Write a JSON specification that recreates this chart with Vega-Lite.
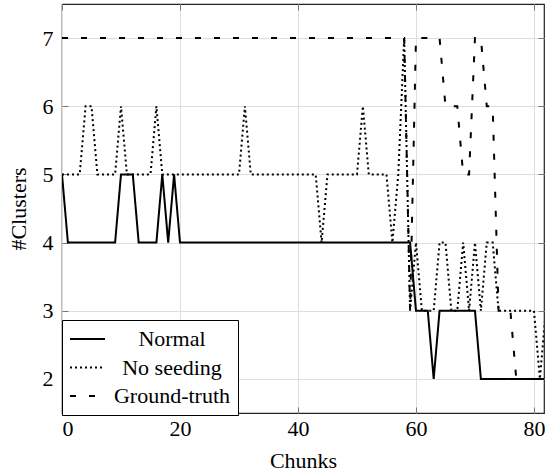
{
  "$schema": "https://vega.github.io/schema/vega-lite/v6.json",
  "width": 482,
  "height": 409,
  "autosize": {"type": "none"},
  "padding": {"left": 62, "top": 4, "right": 1, "bottom": 60},
  "config": {
    "font": "'Liberation Serif', 'Times New Roman', Tinos, 'DejaVu Serif', 'Noto Serif', FreeSerif, serif",
    "view": {"stroke": "#222", "strokeWidth": 1.2},
    "axis": {
      "labelFont": "'Liberation Serif', 'Times New Roman', Tinos, 'DejaVu Serif', 'Noto Serif', FreeSerif, serif",
      "titleFont": "'Liberation Serif', 'Times New Roman', Tinos, 'DejaVu Serif', 'Noto Serif', FreeSerif, serif",
      "labelFontSize": 22,
      "titleFontSize": 22,
      "titleFontWeight": "normal",
      "labelColor": "black",
      "titleColor": "black",
      "domain": false,
      "gridColor": "#dedede",
      "gridWidth": 1,
      "tickColor": "#777",
      "tickSize": -6
    },
    "legend": {
      "labelFont": "'Liberation Serif', 'Times New Roman', Tinos, 'DejaVu Serif', 'Noto Serif', FreeSerif, serif"
    }
  },
  "data": {"values": [
    {"c":0,"Normal":5,"No seeding":5,"Ground-truth":7},
    {"c":1,"Normal":4,"No seeding":5,"Ground-truth":7},
    {"c":2,"Normal":4,"No seeding":5,"Ground-truth":7},
    {"c":3,"Normal":4,"No seeding":5,"Ground-truth":7},
    {"c":4,"Normal":4,"No seeding":6,"Ground-truth":7},
    {"c":5,"Normal":4,"No seeding":6,"Ground-truth":7},
    {"c":6,"Normal":4,"No seeding":5,"Ground-truth":7},
    {"c":7,"Normal":4,"No seeding":5,"Ground-truth":7},
    {"c":8,"Normal":4,"No seeding":5,"Ground-truth":7},
    {"c":9,"Normal":4,"No seeding":5,"Ground-truth":7},
    {"c":10,"Normal":5,"No seeding":6,"Ground-truth":7},
    {"c":11,"Normal":5,"No seeding":5,"Ground-truth":7},
    {"c":12,"Normal":5,"No seeding":5,"Ground-truth":7},
    {"c":13,"Normal":4,"No seeding":5,"Ground-truth":7},
    {"c":14,"Normal":4,"No seeding":5,"Ground-truth":7},
    {"c":15,"Normal":4,"No seeding":5,"Ground-truth":7},
    {"c":16,"Normal":4,"No seeding":6,"Ground-truth":7},
    {"c":17,"Normal":5,"No seeding":5,"Ground-truth":7},
    {"c":18,"Normal":4,"No seeding":5,"Ground-truth":7},
    {"c":19,"Normal":5,"No seeding":5,"Ground-truth":7},
    {"c":20,"Normal":4,"No seeding":5,"Ground-truth":7},
    {"c":21,"Normal":4,"No seeding":5,"Ground-truth":7},
    {"c":22,"Normal":4,"No seeding":5,"Ground-truth":7},
    {"c":23,"Normal":4,"No seeding":5,"Ground-truth":7},
    {"c":24,"Normal":4,"No seeding":5,"Ground-truth":7},
    {"c":25,"Normal":4,"No seeding":5,"Ground-truth":7},
    {"c":26,"Normal":4,"No seeding":5,"Ground-truth":7},
    {"c":27,"Normal":4,"No seeding":5,"Ground-truth":7},
    {"c":28,"Normal":4,"No seeding":5,"Ground-truth":7},
    {"c":29,"Normal":4,"No seeding":5,"Ground-truth":7},
    {"c":30,"Normal":4,"No seeding":5,"Ground-truth":7},
    {"c":31,"Normal":4,"No seeding":6,"Ground-truth":7},
    {"c":32,"Normal":4,"No seeding":5,"Ground-truth":7},
    {"c":33,"Normal":4,"No seeding":5,"Ground-truth":7},
    {"c":34,"Normal":4,"No seeding":5,"Ground-truth":7},
    {"c":35,"Normal":4,"No seeding":5,"Ground-truth":7},
    {"c":36,"Normal":4,"No seeding":5,"Ground-truth":7},
    {"c":37,"Normal":4,"No seeding":5,"Ground-truth":7},
    {"c":38,"Normal":4,"No seeding":5,"Ground-truth":7},
    {"c":39,"Normal":4,"No seeding":5,"Ground-truth":7},
    {"c":40,"Normal":4,"No seeding":5,"Ground-truth":7},
    {"c":41,"Normal":4,"No seeding":5,"Ground-truth":7},
    {"c":42,"Normal":4,"No seeding":5,"Ground-truth":7},
    {"c":43,"Normal":4,"No seeding":5,"Ground-truth":7},
    {"c":44,"Normal":4,"No seeding":4,"Ground-truth":7},
    {"c":45,"Normal":4,"No seeding":5,"Ground-truth":7},
    {"c":46,"Normal":4,"No seeding":5,"Ground-truth":7},
    {"c":47,"Normal":4,"No seeding":5,"Ground-truth":7},
    {"c":48,"Normal":4,"No seeding":5,"Ground-truth":7},
    {"c":49,"Normal":4,"No seeding":5,"Ground-truth":7},
    {"c":50,"Normal":4,"No seeding":5,"Ground-truth":7},
    {"c":51,"Normal":4,"No seeding":6,"Ground-truth":7},
    {"c":52,"Normal":4,"No seeding":5,"Ground-truth":7},
    {"c":53,"Normal":4,"No seeding":5,"Ground-truth":7},
    {"c":54,"Normal":4,"No seeding":5,"Ground-truth":7},
    {"c":55,"Normal":4,"No seeding":5,"Ground-truth":7},
    {"c":56,"Normal":4,"No seeding":4,"Ground-truth":7},
    {"c":57,"Normal":4,"No seeding":5,"Ground-truth":7},
    {"c":58,"Normal":4,"No seeding":7,"Ground-truth":7},
    {"c":59,"Normal":4,"No seeding":3,"Ground-truth":3},
    {"c":60,"Normal":3,"No seeding":4,"Ground-truth":7},
    {"c":61,"Normal":3,"No seeding":3,"Ground-truth":7},
    {"c":62,"Normal":3,"No seeding":3,"Ground-truth":7},
    {"c":63,"Normal":2,"No seeding":3,"Ground-truth":7},
    {"c":64,"Normal":3,"No seeding":4,"Ground-truth":7},
    {"c":65,"Normal":3,"No seeding":4,"Ground-truth":6},
    {"c":66,"Normal":3,"No seeding":3,"Ground-truth":6},
    {"c":67,"Normal":3,"No seeding":3,"Ground-truth":6},
    {"c":68,"Normal":3,"No seeding":4,"Ground-truth":5},
    {"c":69,"Normal":3,"No seeding":3,"Ground-truth":5},
    {"c":70,"Normal":3,"No seeding":4,"Ground-truth":7},
    {"c":71,"Normal":2,"No seeding":3,"Ground-truth":7},
    {"c":72,"Normal":2,"No seeding":4,"Ground-truth":6},
    {"c":73,"Normal":2,"No seeding":4,"Ground-truth":6},
    {"c":74,"Normal":2,"No seeding":3,"Ground-truth":3},
    {"c":75,"Normal":2,"No seeding":3,"Ground-truth":3},
    {"c":76,"Normal":2,"No seeding":3,"Ground-truth":3},
    {"c":77,"Normal":2,"No seeding":3,"Ground-truth":2},
    {"c":78,"Normal":2,"No seeding":3,"Ground-truth":2},
    {"c":79,"Normal":2,"No seeding":3,"Ground-truth":2},
    {"c":80,"Normal":2,"No seeding":3,"Ground-truth":2},
    {"c":81,"Normal":2,"No seeding":2,"Ground-truth":2},
    {"c":82,"Normal":2,"No seeding":3,"Ground-truth":2}
  ]},
  "transform": [{"fold": ["Normal", "No seeding", "Ground-truth"], "as": ["series", "value"]}],
  "layer": [
    {
      "mark": {"type": "line", "strokeWidth": 2, "color": "black", "clip": true},
      "encoding": {
        "x": {"field": "c", "type": "quantitative",
              "scale": {"domain": [0, 81.7], "nice": false, "zero": false},
              "axis": {"values": [0, 20, 40, 60, 80], "title": "Chunks", "grid": true, "labelPadding": 11, "titlePadding": 11}},
        "y": {"field": "value", "type": "quantitative",
              "scale": {"domain": [1.5, 7.5], "nice": false, "zero": false},
              "axis": {"values": [2, 3, 4, 5, 6, 7], "title": "#Clusters", "grid": true, "labelPadding": 15, "titlePadding": 12}},
        "strokeDash": {"field": "series", "type": "nominal",
              "scale": {"domain": ["Normal", "No seeding", "Ground-truth"], "range": [[1, 0], [2, 3], [6, 13]]},
              "legend": {"title": null, "orient": "none", "legendX": 0, "legendY": 316,
                         "strokeColor": "black", "fillColor": "white", "padding": 7,
                         "symbolType": "stroke", "symbolSize": 1225, "symbolStrokeWidth": 2, "symbolStrokeColor": "black",
                         "labelFontSize": 22, "labelColor": "black",
                         "labelAlign": "center", "labelOffset": 66, "clipHeight": 24, "rowPadding": 4.5, "cornerRadius": 0}}
      }
    },
    {
      "mark": {"type": "line", "opacity": 0},
      "encoding": {
        "x": {"field": "c", "type": "quantitative",
              "axis": {"orient": "top", "values": [0, 20, 40, 60, 80], "labels": false, "grid": false, "title": null}},
        "y": {"field": "value", "type": "quantitative",
              "axis": {"orient": "right", "values": [2, 3, 4, 5, 6, 7], "labels": false, "grid": false, "title": null}},
        "detail": {"field": "series"}
      }
    }
  ],
  "resolve": {"axis": {"x": "independent", "y": "independent"}}
}
